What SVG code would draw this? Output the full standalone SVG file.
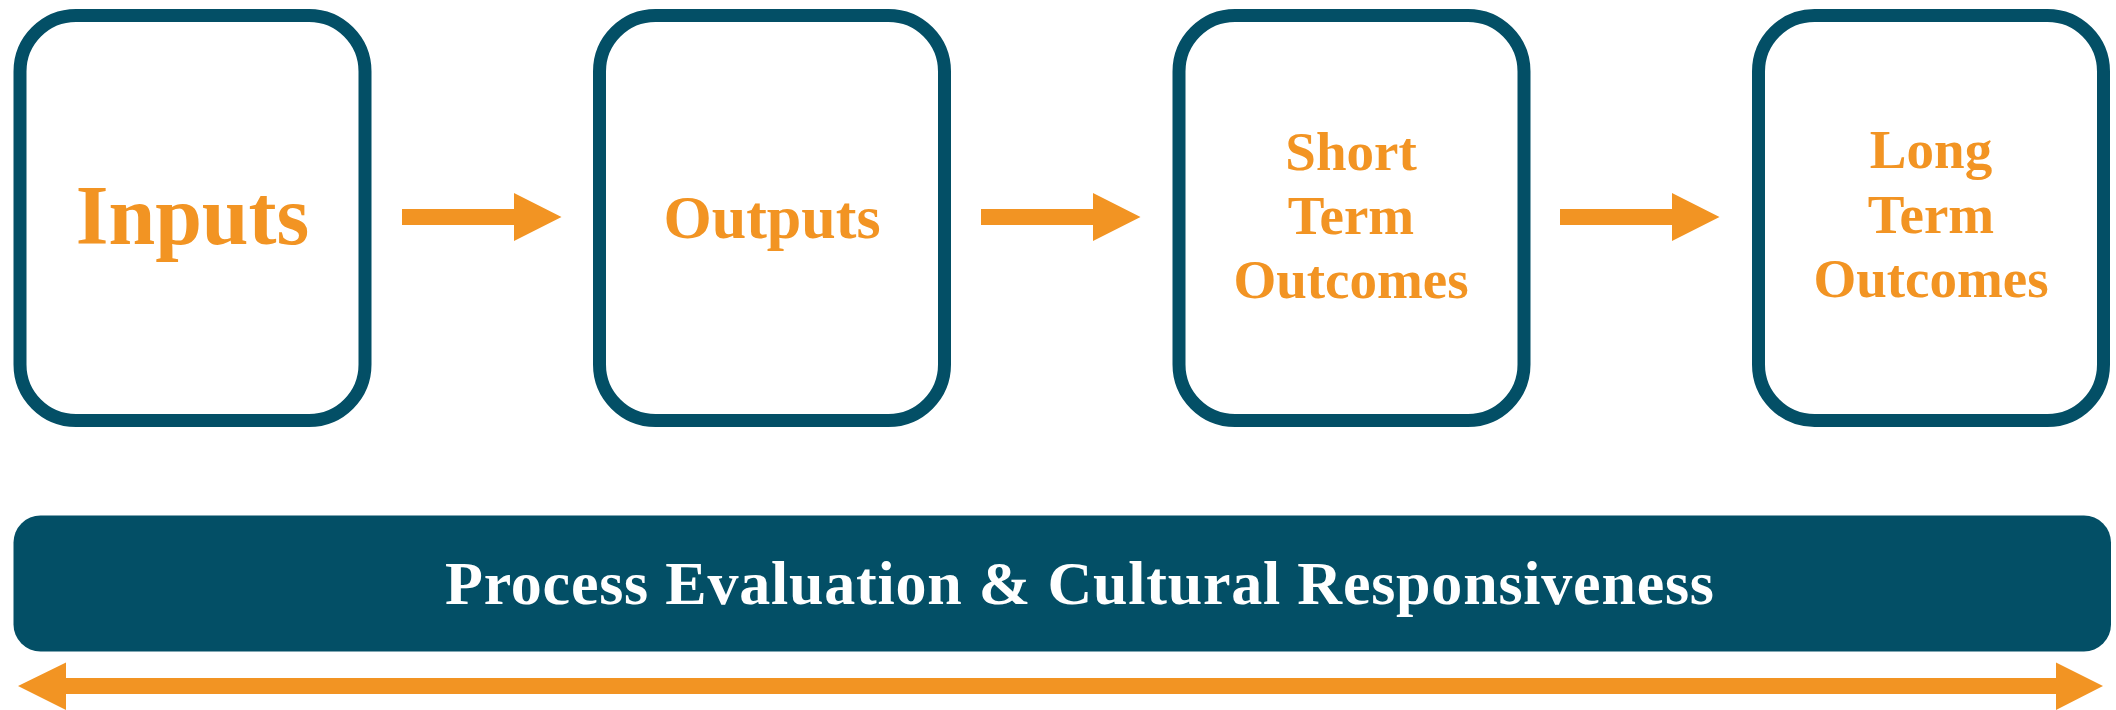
<svg xmlns="http://www.w3.org/2000/svg" width="2116" height="710" viewBox="0 0 2116 710">
<style>
.box{fill:#ffffff;stroke:#034f66;stroke-width:13}
.lbl{fill:#f29423;font-family:"Liberation Serif","Times New Roman",serif;font-weight:bold;text-anchor:middle}
.arr{fill:#f29423}
.bar{fill:#034f66}
.bartxt{fill:#ffffff;font-family:"Liberation Serif","Times New Roman",serif;font-weight:bold;font-size:62px}
</style>
<rect width="2116" height="710" fill="#ffffff"/>
<g id="node-inputs">
<rect class="box" x="20" y="15.5" width="345" height="405" rx="56"/>
<text class="lbl" x="192.5" y="244" font-size="84">Inputs</text>
</g>
<g id="node-outputs">
<rect class="box" x="599.5" y="15.5" width="345" height="405" rx="56"/>
<text class="lbl" x="772" y="238" font-size="62">Outputs</text>
</g>
<g id="node-short">
<rect class="box" x="1179" y="15.5" width="345" height="405" rx="56"/>
<text class="lbl" font-size="55"><tspan x="1351" y="170">Short</tspan><tspan x="1351" y="234">Term</tspan><tspan x="1351" y="298">Outcomes</tspan></text>
</g>
<g id="node-long">
<rect class="box" x="1758.5" y="15.5" width="345" height="405" rx="56"/>
<text class="lbl" font-size="55"><tspan x="1931" y="168">Long</tspan><tspan x="1931" y="233">Term</tspan><tspan x="1931" y="297">Outcomes</tspan></text>
</g>
<g id="node-process">
<rect class="bar" x="13.5" y="515.5" width="2097.5" height="136" rx="27"/>
<text class="bartxt" x="445" y="604" textLength="1269" lengthAdjust="spacing">Process Evaluation &amp; Cultural Responsiveness</text>
</g>
<g id="connectors">
<polygon class="arr" points="402,209 514,209 514,193 561.5,217 514,241 514,225 402,225"/>
<polygon class="arr" points="981,209 1093,209 1093,193 1140.5,217 1093,241 1093,225 981,225"/>
<polygon class="arr" points="1560,209 1672,209 1672,193 1719.5,217 1672,241 1672,225 1560,225"/>
<polygon class="arr" points="18,686 66,662.5 66,678 2056,678 2056,662.5 2103,686 2056,710 2056,694 66,694 66,710"/>
</g>
</svg>
